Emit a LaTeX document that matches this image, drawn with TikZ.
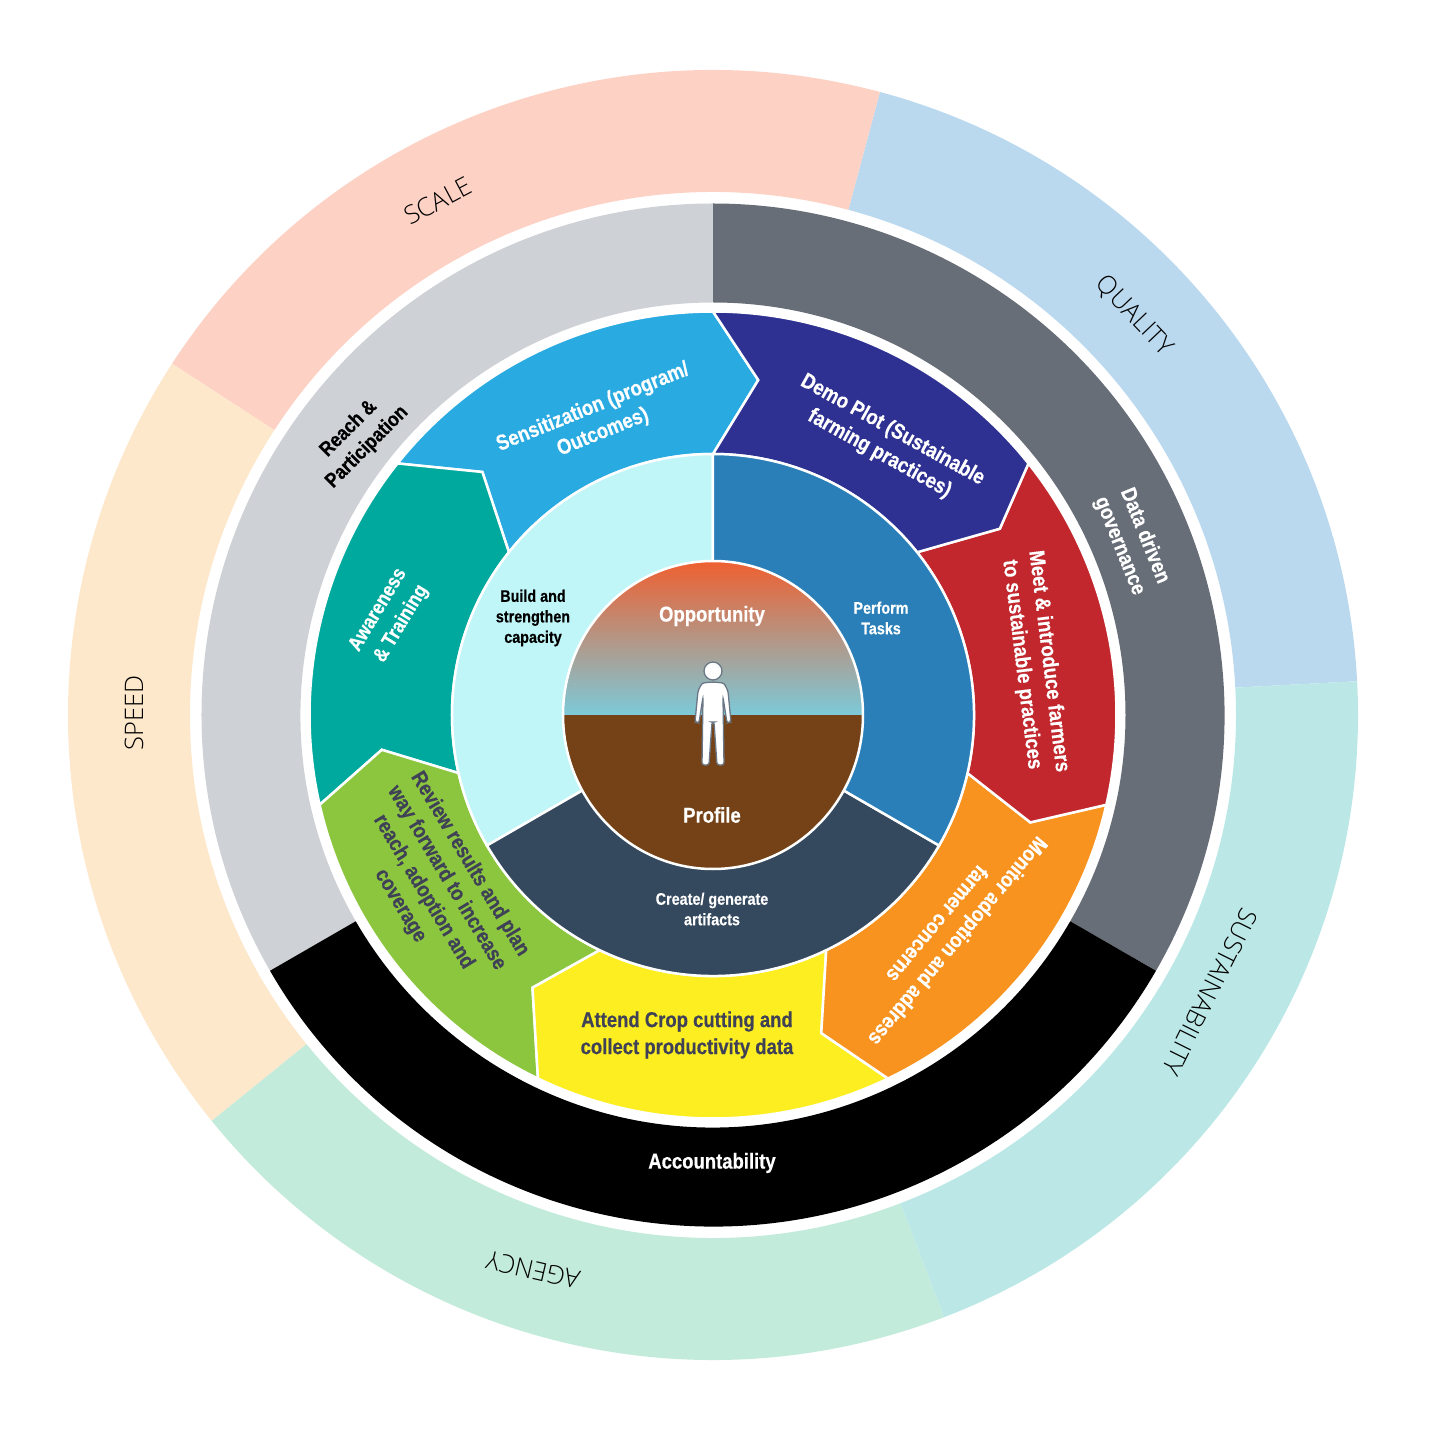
\documentclass[tikz,border=0pt]{standalone}
\usepackage{fontspec}
\usepackage{xcolor}
\setmainfont{Liberation Sans}
\newfontfamily\condfont[FakeStretch=0.86, BoldFeatures={FakeBold=0.4}]{Liberation Sans}
\newfontfamily\lightfont{Open Sans Light}
\definecolor{scalecol}{HTML}{FDD2C5}
\definecolor{qualitycol}{HTML}{BBD9EE}
\definecolor{sustaincol}{HTML}{BBE8E6}
\definecolor{agencycol}{HTML}{C3EBDB}
\definecolor{speedcol}{HTML}{FDE8CC}
\definecolor{reachcol}{HTML}{CED1D5}
\definecolor{datacol}{HTML}{686E78}
\definecolor{senscol}{HTML}{29ABE2}
\definecolor{democol}{HTML}{2E3192}
\definecolor{meetcol}{HTML}{C1272D}
\definecolor{monitorcol}{HTML}{F7931E}
\definecolor{cropcol}{HTML}{FCEE21}
\definecolor{reviewcol}{HTML}{8CC63F}
\definecolor{awarecol}{HTML}{00A99D}
\definecolor{buildcol}{HTML}{C0F6F8}
\definecolor{taskcol}{HTML}{2A7FB8}
\definecolor{createcol}{HTML}{34495E}
\definecolor{darktext}{HTML}{3F4156}
\definecolor{skytop}{HTML}{EE6030}
\definecolor{skybot}{HTML}{7CCAD9}
\definecolor{soilcol}{HTML}{744216}
\definecolor{personline}{HTML}{6B7785}

\begin{document}
\begin{tikzpicture}[
    x=1pt, y=1pt,
    ringtext/.style={font=\lightfont\fontsize{25.5}{30}\selectfont, inner sep=0pt},
    seglabel/.style={font=\condfont\bfseries\fontsize{21.5}{27}\selectfont, align=center, inner sep=0pt},
    smalllabel/.style={font=\condfont\bfseries\fontsize{16.7}{20.5}\selectfont, align=center, inner sep=0pt},
    sector/.style={draw=white, line width=2.5pt, line join=miter},
    person/.style={draw=personline, fill=white, line width=1.3pt, rounded corners=2.5pt}
]
\useasboundingbox (-713,-741) rectangle (715,715);

% --- outer ring, five equal parts ---
\foreach \a/\b/\col in {3/75/qualitycol, 75/147/scalecol, 147/219/speedcol, 219/291/agencycol, 291/363/sustaincol}
    \fill[\col] (\a:645) arc[start angle=\a, end angle=\b, radius=645] -- (\b:523)
        arc[start angle=\b, end angle=\a, radius=523] -- cycle;

% --- second ring, three equal parts ---
\foreach \a/\b/\col in {-30/90/datacol, 90/210/reachcol, 210/330/black}
    \fill[\col] (\a:511.5) arc[start angle=\a, end angle=\b, radius=511.5] -- (\b:412.5)
        arc[start angle=\b, end angle=\a, radius=412.5] -- cycle;

% --- notch points between the seven activity segments ---
\coordinate (t1) at (82.3:338);
\coordinate (t2) at (133.5:335);
\coordinate (t3) at (186:333);
\coordinate (t4) at (236.5:327);
\coordinate (t5) at (288.8:336);
\coordinate (t6) at (341.3:335);
\coordinate (t7) at (33:342);

% --- seven activity segments ---
\foreach \a/\b/\ta/\tb/\col in {
    90/141.43/t1/t2/senscol,
    141.43/192.86/t2/t3/awarecol,
    192.86/244.29/t3/t4/reviewcol,
    244.29/295.71/t4/t5/cropcol,
    295.71/347.14/t5/t6/monitorcol,
    347.14/398.57/t6/t7/meetcol,
    38.57/90/t7/t1/democol}
    \draw[sector, fill=\col] (\a:403.5) arc[start angle=\a, end angle=\b, radius=403.5] -- (\tb)
        -- (\b:261) arc[start angle=\b, end angle=\a, radius=261] -- (\ta) -- cycle;

% --- three task sectors ---
\foreach \a/\b/\col in {90/210/buildcol, 210/330/createcol, -30/90/taskcol}
    \draw[sector, fill=\col] (\a:261) arc[start angle=\a, end angle=\b, radius=261] -- (\b:145)
        arc[start angle=\b, end angle=\a, radius=145] -- cycle;

% --- centre disc ---
\path[top color=skytop, bottom color=skybot] (149,0) arc[start angle=0, end angle=180, x radius=149, y radius=154] -- cycle;
\fill[soilcol] (149,0) arc[start angle=0, end angle=-180, x radius=149, y radius=154] -- cycle;
\draw[white, line width=2.5pt] (0,0) ellipse[x radius=150, y radius=154];

% --- person ---
\draw[person] (0,33) -- (11,32) -- (15,24) -- (18,-7) -- (14,-8) -- (10,18) -- (11,-50) -- (4,-50)
    -- (1,-7) -- (-1,-7) -- (-4,-50) -- (-11,-50) -- (-10,18) -- (-14,-8) -- (-18,-7) -- (-15,24) -- (-11,32) -- cycle;
\draw[draw=personline, fill=white, line width=1.3pt] (0,44) circle[radius=9];

% --- outer ring labels ---
\node[ringtext, rotate=28] (scale) at (-275,514) {SCALE};
\node[ringtext, rotate=-46.5] (quality) at (421,399) {QUALITY};
\node[ringtext, rotate=-116.5] (sustain) at (497,-277) {SUSTAINABILITY};
\node[ringtext, rotate=167] (agency) at (-180,-555) {AGENCY};
\node[ringtext, rotate=90] (speed) at (-579,2) {SPEED};

% --- second ring labels ---
\node[seglabel, rotate=45, font=\condfont\bfseries\fontsize{20.5}{26}\selectfont] (reach) at (-355,277) {Reach \&\\Participation};
\node[seglabel, white, rotate=-68] (data) at (419,174) {Data driven\\governance};
\node[seglabel, white] (account) at (-1,-448) {Accountability};

% --- activity labels ---
\node[seglabel, white, rotate=22] (sens) at (-115,295) {Sensitization (program/\\Outcomes)};
\node[seglabel, white, rotate=-29] (demo) at (173,273) {Demo Plot (Sustainable\\farming practices)};
\node[seglabel, white, rotate=-83] (meet) at (322,52) {Meet \& introduce farmers\\to sustainable practices};
\node[seglabel, white, rotate=-130] (monitor) at (235,-218) {Monitor adoption and address\\farmer concerns};
\node[seglabel, darktext] (crop) at (-26,-320) {Attend Crop cutting and\\collect productivity data};
\node[seglabel, darktext, rotate=-59] (review) at (-278,-170) {Review results and plan\\way forward to increase\\reach, adoption and\\coverage};
\node[seglabel, white, rotate=59, font=\condfont\bfseries\fontsize{20.5}{27}\selectfont] (aware) at (-323,98) {Awareness\\\& Training};

% --- task and centre labels ---
\node[smalllabel] (build) at (-180,97) {Build and\\strengthen\\capacity};
\node[smalllabel, white] (perform) at (168,97) {Perform\\Tasks};
\node[smalllabel, white] (create) at (-1,-194) {Create/ generate\\artifacts};
\node[seglabel, white] (opp) at (-1,99) {Opportunity};
\node[seglabel, white] (profile) at (-1,-100) {Profile};

\end{tikzpicture}
\end{document}
